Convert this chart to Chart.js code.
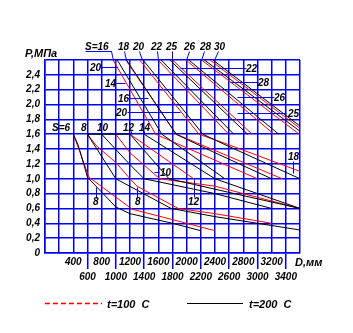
<!DOCTYPE html>
<html>
<head>
<meta charset="utf-8">
<script src="https://cdn.jsdelivr.net/npm/chart.js@4.4.1/dist/chart.umd.min.js"></script>
<style>
  html, body { margin: 0; padding: 0; background: #fff; }
  #wrap { width: 353px; height: 333px; }
</style>
</head>
<body>
<div id="wrap"><canvas id="nomo" width="353" height="333"></canvas></div>
<script>
// axis ticks (D in mm, P in MPa)
const dTicks = [0, 200, 400, 600, 800, 1000, 1200, 1400, 1600, 1800, 2000, 2200, 2400, 2600, 2800, 3000, 3200, 3400, 3600];
const dLabelsTop    = [400, 800, 1200, 1600, 2000, 2400, 2800, 3200];
const dLabelsBottom = [600, 1000, 1400, 1800, 2200, 2600, 3000, 3400];
const pTicks = [0, 0.2, 0.4, 0.6, 0.8, 1.0, 1.2, 1.4, 1.6, 1.8, 2.0, 2.2, 2.4, 2.6];

// lines, [D, P]
// t = 100 C (red)
const red6  = [[400, 1.6], [490, 1.37], [620, 1.02], [680, 0.98], [1230, 0.59], [1800, 0.45], [2400, 0.30]];
const red8  = [[600, 1.6], [720, 1.45], [1000, 1.22], [1200, 1.0], [1300, 0.9], [1880, 0.6], [2400, 0.53], [3200, 0.40]];
const red10 = [[1000, 1.6], [1200, 1.35], [1620, 1.0], [2400, 0.9], [3600, 0.6]];
const red12 = [[1200, 1.6], [2100, 1.0]];
const red16 = [[962, 2.6], [1563, 1.6], [3000, 1.0]];
const red18 = [[1141, 2.6], [1854, 1.6], [3350, 1.0]];
const red20 = [[1338, 2.6], [2174, 1.6], [2590, 1.46], [3600, 1.1]];
const red22 = [[1597, 2.6], [2595, 1.6]];
const red25 = [[1800, 2.6], [2925, 1.6]];
const red26 = [[1990, 2.6], [3234, 1.6]];
const red28 = [[2210, 2.6], [3591, 1.6]];
const red30 = [[2330, 2.6], [3600, 1.68]];

// t = 200 C (black)
const blackCap = [[600, 1.6], [1200, 1.6]];
const black6  = [[400, 1.6], [470, 1.45], [600, 1.02], [1000, 0.62], [1200, 0.53], [1800, 0.40], [2200, 0.30]];
const black8  = [[600, 1.6], [1000, 1.0], [1780, 0.6], [2400, 0.49], [3600, 0.31]];
const black10 = [[800, 1.6], [1200, 1.19], [1400, 1.0], [2400, 0.8], [3200, 0.6]];
const black12 = [[1200, 1.6], [1750, 1.0], [3600, 0.6]];
const black14 = [[1400, 1.6], [2400, 1.0], [3600, 0.6]];
const black16 = [[1020, 2.6], [1650, 1.6], [2540, 1.0]];
const black18 = [[1150, 2.6], [1850, 1.6], [2400, 1.35], [3200, 1.0]];
const black20 = [[1384, 2.6], [2230, 1.6], [2540, 1.46], [3600, 1.0]];
const black22 = [[1640, 2.6], [2665, 1.6]];
const black25 = [[1762, 2.6], [2860, 1.6]];
const black26 = [[2030, 2.6], [3300, 1.6]];
const black28 = [[2250, 2.6], [3600, 1.64]];
const black30 = [[2370, 2.6], [3600, 1.71]];

const redLines = [red6, red8, red10, red12, red16, red18, red20, red22, red25, red26, red28, red30];
const blackLines = [blackCap, black6, black8, black10, black12, black14, black16, black18, black20, black22, black25, black26, black28, black30];

const BLUE = '#0000ff';
const FONT = '"Liberation Sans", Arial, sans-serif';

function toPoints(line) {
    return line.map(p => ({ x: p[0], y: p[1] }));
}

const datasets = [];
blackLines.forEach(l => datasets.push({ data: toPoints(l), borderColor: '#000', borderWidth: 1 }));
redLines.forEach(l => datasets.push({ data: toPoints(l), borderColor: '#ff0000', borderWidth: 1 }));

// labels and leaders on the plot, in pixels
const notes = [
    { t: 'S=16', x: 85, y: 50, lead: [[85, 51], [111, 51], [113, 60]] },
    { t: '18', x: 118, y: 50, lead: [[124, 51], [126, 60]] },
    { t: '20', x: 133, y: 50, lead: [[139, 51], [142, 60]] },
    { t: '22', x: 151, y: 50, lead: [[157, 51], [158, 60]] },
    { t: '25', x: 166, y: 50, lead: [[172, 51], [172, 60]] },
    { t: '26', x: 184, y: 50, lead: [[189, 51], [186, 60]] },
    { t: '28', x: 200, y: 50, lead: [[204, 51], [201, 60]] },
    { t: '30', x: 214, y: 50, lead: [[218, 51], [214, 60]] },
    { t: '20', x: 90, y: 71, lead: [[100, 67], [117, 67]] },
    { t: '14', x: 105, y: 87, lead: [[113, 83], [125, 83]] },
    { t: '16', x: 118, y: 102, lead: [[128, 98], [148, 98]] },
    { t: '20', x: 116, y: 116, lead: [[127, 112], [180, 112]] },
    { t: '22', x: 246, y: 72, lead: [[180, 68], [246, 68]] },
    { t: '28', x: 258, y: 86, lead: [[230, 82], [258, 82]] },
    { t: '26', x: 274, y: 101, lead: [[237, 97], [274, 97]] },
    { t: '25', x: 288, y: 117, lead: [[237, 113], [286, 113]] },
    { t: '18', x: 288, y: 160, lead: [[293, 161], [293, 173]] },
    { t: 'S=6', x: 52, y: 131, lead: null },
    { t: '8', x: 81, y: 131, lead: null },
    { t: '10', x: 97, y: 131, lead: null },
    { t: '12', x: 123, y: 131, lead: [[131, 131], [131, 134]] },
    { t: '14', x: 139, y: 131, lead: [[144, 131], [144, 134]] },
    { t: '10', x: 160, y: 176, lead: [[154, 172], [159, 172]] },
    { t: '8', x: 93, y: 205, lead: [[96, 187], [96, 198]] },
    { t: '8', x: 135, y: 205, lead: [[137, 187], [137, 198]] },
    { t: '12', x: 188, y: 205, lead: [[194, 179], [194, 197]] }
];

const decor = {
    id: 'decor',
    afterDraw(chart) {
        const ctx = chart.ctx;
        const xs = chart.scales.x;
        ctx.save();
        ctx.font = 'italic bold 10px ' + FONT;
        ctx.textBaseline = 'alphabetic';
        ctx.textAlign = 'left';
        notes.forEach(n => {
            if (n.lead) {
                ctx.strokeStyle = BLUE;
                ctx.lineWidth = 1;
                ctx.beginPath();
                n.lead.forEach((p, i) => i ? ctx.lineTo(p[0] + 0.5, p[1] + 0.5) : ctx.moveTo(p[0] + 0.5, p[1] + 0.5));
                ctx.stroke();
            }
            ctx.fillStyle = '#000';
            ctx.fillText(n.t, n.x, n.y);
        });

        // axis titles
        ctx.font = 'italic bold 11px ' + FONT;
        ctx.fillText('Р,МПа', 25, 57);
        ctx.fillText('D,мм', xs.getPixelForValue(3600) - 5, 266);

        // legend
        ctx.lineWidth = 1.5;
        ctx.strokeStyle = '#ff0000';
        ctx.setLineDash([5, 3]);
        ctx.beginPath();
        ctx.moveTo(45, 303.5);
        ctx.lineTo(102, 303.5);
        ctx.stroke();
        ctx.setLineDash([]);
        ctx.lineWidth = 1;
        ctx.strokeStyle = '#000';
        ctx.beginPath();
        ctx.moveTo(187, 303.5);
        ctx.lineTo(243, 303.5);
        ctx.stroke();
        ctx.font = 'italic bold 11px ' + FONT;
        ctx.fillStyle = '#000';
        ctx.fillText('t=100  C', 107, 308);
        ctx.fillText('t=200  C', 249, 308);
        ctx.restore();
    }
};

new Chart(document.getElementById('nomo'), {
    type: 'line',
    data: { datasets },
    options: {
        responsive: false,
        animation: false,
        devicePixelRatio: 1,
        parsing: false,
        elements: { point: { radius: 0 }, line: { tension: 0 } },
        layout: { padding: { left: 0, top: 60, right: 53, bottom: 0 } },
        plugins: { legend: { display: false }, tooltip: { enabled: false } },
        scales: {
            x: {
                type: 'linear',
                min: 0,
                max: 3600,
                afterBuildTicks: s => { s.ticks = dTicks.map(v => ({ value: v })); },
                afterFit: s => { s.height = 80; },
                grid: {
                    color: BLUE,
                    lineWidth: 1.5,
                    drawTicks: true,
                    tickLength: 16,
                    tickColor: c => dLabelsBottom.includes(c.tick && c.tick.value) ? BLUE : 'rgba(0,0,0,0)',
                    tickWidth: 1.5
                },
                border: { color: BLUE, width: 1.5 },
                ticks: {
                    color: '#000',
                    padding: -14,
                    maxRotation: 0,
                    autoSkip: false,
                    font: { family: FONT, size: 10, style: 'italic', weight: 'bold', lineHeight: 1.45 },
                    callback: v => {
                        if (dLabelsTop.includes(v)) return [String(v), ''];
                        if (dLabelsBottom.includes(v)) return ['', String(v)];
                        return '';
                    }
                }
            },
            y: {
                type: 'linear',
                min: 0,
                max: 2.6,
                afterBuildTicks: s => { s.ticks = pTicks.map(v => ({ value: v })); },
                afterFit: s => { s.width = 45; },
                grid: { color: BLUE, lineWidth: 1.5, drawTicks: false },
                border: { color: BLUE, width: 1.5 },
                ticks: {
                    color: '#000',
                    padding: 5,
                    autoSkip: false,
                    font: { family: FONT, size: 10, style: 'italic', weight: 'bold' },
                    callback: v => {
                        if (v === 0) return '0';
                        if (v > 2.5) return '';
                        return v.toFixed(1).replace('.', ',');
                    }
                }
            }
        }
    },
    plugins: [decor]
});
</script>
</body>
</html>
